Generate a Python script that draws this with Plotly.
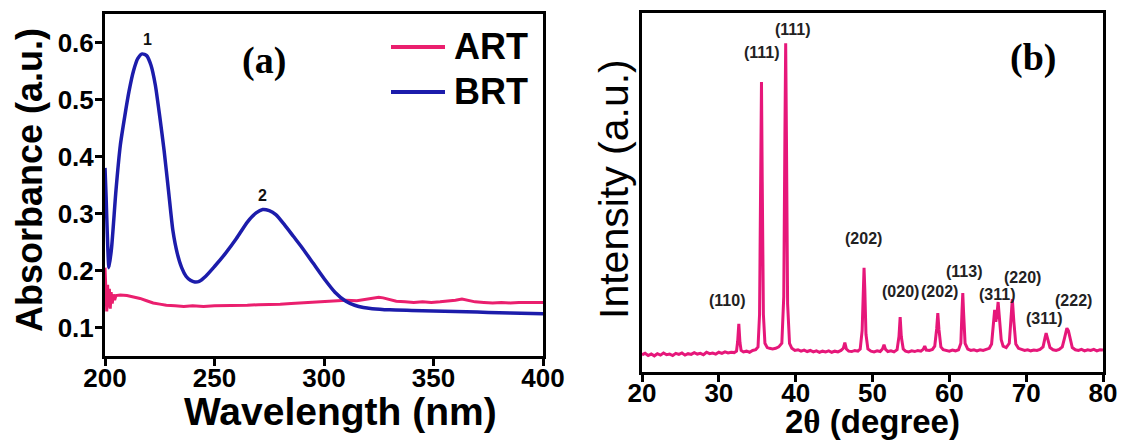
import plotly.graph_objects as go

# ---------------- UV-Vis absorbance spectra ----------------
wl_brt = [200, 200.5, 201, 201.8, 203, 205, 207, 209, 211, 213, 215, 217, 219, 221, 223,
          225, 227, 229, 231, 233, 235, 237, 239, 241, 243, 246, 250, 255, 260, 265, 269,
          272, 275, 278, 282, 286, 290, 295, 300, 305, 310, 314, 318, 322, 330, 340, 350,
          360, 370, 380, 390, 400]
abs_brt = [0.38, 0.33, 0.27, 0.205, 0.24, 0.34, 0.42, 0.47, 0.515, 0.55, 0.572, 0.58, 0.577,
           0.56, 0.525, 0.47, 0.41, 0.34, 0.27, 0.23, 0.205, 0.19, 0.183, 0.18, 0.181, 0.19,
           0.207, 0.23, 0.256, 0.285, 0.301, 0.307, 0.305, 0.298, 0.28, 0.26, 0.24, 0.213,
           0.186, 0.162, 0.146, 0.139, 0.135, 0.133, 0.131, 0.13, 0.129, 0.128, 0.127, 0.126,
           0.125, 0.124]

wl_art = [200, 200.4, 200.8, 201.2, 201.6, 202.0, 202.4, 202.8, 203.3, 203.8, 204.4, 205,
          207, 210, 213, 216, 219, 222, 225, 228, 232, 236, 240, 245, 250, 255, 260, 265,
          270, 275, 280, 285, 290, 295, 300, 305, 310, 315, 318, 322, 325, 327, 330, 333,
          337, 341, 345, 349, 353, 357, 360, 363, 366, 369, 373, 377, 381, 385, 389, 393,
          397, 400]
abs_art = [0.205, 0.16, 0.128, 0.175, 0.135, 0.168, 0.133, 0.162, 0.142, 0.158, 0.148, 0.156,
           0.157, 0.156, 0.154, 0.151, 0.147, 0.143, 0.141, 0.139, 0.138, 0.137, 0.138, 0.137,
           0.138, 0.138, 0.139, 0.139, 0.14, 0.14, 0.141, 0.142, 0.143, 0.145, 0.146, 0.146,
           0.148, 0.147, 0.149, 0.152, 0.153, 0.152, 0.149, 0.146, 0.145, 0.144, 0.145, 0.144,
           0.145, 0.146, 0.148, 0.15, 0.148, 0.145, 0.144, 0.143, 0.144, 0.143, 0.144, 0.144,
           0.143, 0.144]

band_labels = ["1", "2"]
band_x = [219.2, 271.7]
band_y = [0.606, 0.332]

# ---------------- XRD pattern ----------------
two_theta = [
    20.0, 20.4, 20.8, 21.2, 21.6, 22.0, 22.4, 22.8, 23.2, 23.6, 24.0, 24.4, 24.8, 25.2, 25.6,
    26.0, 26.4, 26.8, 27.2, 27.6, 28.0, 28.4, 28.8, 29.2, 29.6, 30.0, 30.4, 30.8, 31.2, 31.6,
    32.0, 32.3, 32.45, 32.6, 32.75, 32.9, 33.2, 33.6, 34.0, 34.4, 34.8, 35.1, 35.3, 35.45,
    35.55, 35.65, 35.8, 36.0, 36.3, 36.6, 37.0, 37.4, 37.8, 38.2, 38.45, 38.6, 38.7, 38.8,
    38.95, 39.2, 39.5, 39.9, 40.3, 40.7, 41.1, 41.5, 41.9, 42.3, 42.7, 43.1, 43.5, 43.9,
    44.3, 44.7, 45.1, 45.5, 45.9, 46.2, 46.4, 46.6, 46.9, 47.3, 47.7, 48.1, 48.4, 48.65,
    48.8, 48.9, 49.0, 49.15, 49.4, 49.8, 50.2, 50.6, 51.0, 51.3, 51.5, 51.7, 52.0, 52.4,
    52.8, 53.2, 53.45, 53.6, 53.75, 54.0, 54.3, 54.7, 55.1, 55.5, 55.9, 56.3, 56.6, 56.8,
    57.0, 57.4, 57.8, 58.1, 58.35, 58.5, 58.65, 58.9, 59.2, 59.6, 60.0, 60.4, 60.8, 61.2,
    61.5, 61.65, 61.75, 61.85, 62.05, 62.4, 62.8, 63.2, 63.6, 64.0, 64.4, 64.8, 65.2, 65.5,
    65.75, 65.9, 66.05, 66.2, 66.35, 66.5, 66.75, 67.0, 67.4, 67.8, 68.0, 68.2, 68.4, 68.65,
    69.0, 69.4, 69.8, 70.2, 70.6, 71.0, 71.4, 71.8, 72.2, 72.45, 72.6, 72.8, 73.1, 73.5,
    73.9, 74.3, 74.7, 75.0, 75.3, 75.5, 75.75, 76.0, 76.4, 76.8, 77.2, 77.6, 78.0, 78.4,
    78.8, 79.2, 79.6, 80.0]
intensity = [
    48, 52, 46, 50, 45, 51, 47, 53, 48, 50, 46, 52, 49, 53, 47,
    51, 49, 54, 50, 52, 48, 55, 51, 53, 50, 55, 52, 56, 53, 55,
    54, 58, 85, 134, 82, 60, 56, 58, 55, 60, 62, 70, 160, 520,
    808, 530, 160, 80, 68, 66, 64, 66, 70, 80, 210, 660, 916, 650,
    190, 80, 66, 60, 62, 58, 61, 57, 60, 56, 59, 55, 58, 56,
    59, 55, 58, 56, 60, 66, 82, 64, 58, 57, 60, 58, 64, 115,
    235, 290, 230, 105, 64, 58, 56, 59, 57, 64, 76, 63, 57, 59,
    56, 62, 100, 153, 98, 64, 58, 56, 59, 57, 60, 58, 63, 72,
    61, 60, 63, 72, 120, 164, 118, 70, 62, 60, 58, 61, 59, 62,
    80, 170, 220, 168, 80, 64, 60, 62, 59, 62, 60, 63, 66, 78,
    130, 173, 140, 160, 195, 150, 90, 72, 68, 80, 150, 203, 140, 78,
    66, 62, 60, 62, 59, 61, 60, 63, 70, 95, 108, 92, 68, 62,
    60, 63, 70, 95, 122, 115, 88, 68, 62, 60, 63, 59, 62, 60,
    63, 59, 62, 61]

hkl_labels = ["(110)", "(111)", "(111)", "(202)", "(020)", "(202)", "(113)",
              "(311)", "(220)", "(311)", "(222)"]
hkl_x = [31.07, 35.63, 39.66, 48.78, 53.59, 58.67, 61.93, 66.22, 69.48, 72.34, 76.12]
hkl_y = [200, 889, 953, 371, 223, 223, 279, 217, 262, 148, 198]

# ---------------- styling ----------------
W, H = 1121, 441
PINK = "#e6177a"
ART_PINK = "#ea1f6e"
BLUE = "#1c1cab"
SANS = "Liberation Sans, Arial, sans-serif"
SERIF = "Liberation Serif, Times New Roman, serif"


def px(x):
    return x / W


def py(y):
    return 1 - y / H


fig = go.Figure()

fig.add_trace(go.Scatter(x=wl_art, y=abs_art, mode="lines", xaxis="x", yaxis="y",
                         line=dict(color=ART_PINK, width=3), showlegend=False))
fig.add_trace(go.Scatter(x=wl_brt, y=abs_brt, mode="lines", xaxis="x", yaxis="y",
                         line=dict(color=BLUE, width=3.5, shape="spline", smoothing=0.6),
                         showlegend=False))
fig.add_trace(go.Scatter(x=two_theta, y=intensity, mode="lines", xaxis="x2", yaxis="y2",
                         line=dict(color=PINK, width=3), showlegend=False))

axis_common = dict(showline=True, linecolor="black", linewidth=3, mirror=True,
                   showgrid=False, zeroline=False, ticks="outside", ticklen=7,
                   tickwidth=3, tickcolor="black", automargin=False)
tick_font = dict(family=SANS, size=26, color="black", weight="bold")

fig.update_layout(
    width=W, height=H,
    margin=dict(l=0, r=0, t=0, b=0, pad=0, autoexpand=False),
    paper_bgcolor="white", plot_bgcolor="white",
    xaxis=dict(domain=[px(105), px(543)], range=[200, 400], tickvals=[200, 250, 300, 350, 400],
               tickfont=tick_font, ticklabelstandoff=-10, anchor="y", **axis_common),
    yaxis=dict(domain=[py(356), py(14)], range=[0.05, 0.65],
               tickvals=[0.1, 0.2, 0.3, 0.4, 0.5, 0.6], tickformat=".1f",
               tickfont=tick_font, ticklabelstandoff=-4, anchor="x", **axis_common),
    xaxis2=dict(domain=[px(642), px(1103)], range=[20, 80],
                tickvals=[20, 30, 40, 50, 60, 70, 80],
                tickfont=tick_font, ticklabelstandoff=-11, anchor="y2", **axis_common),
    yaxis2=dict(domain=[py(372), py(13)], range=[0, 1000], showline=True, linecolor="black",
                linewidth=3, mirror=True, showgrid=False, zeroline=False, ticks="",
                showticklabels=False, anchor="x2", automargin=False),
)

annotations = []
# axis titles
annotations.append(dict(text="Absorbance (a.u.)", x=px(29), y=py(180), xref="paper", yref="paper",
                        textangle=-90, showarrow=False, xanchor="center", yanchor="middle",
                        font=dict(family=SANS, size=36, color="black", weight="bold")))
annotations.append(dict(text="Wavelength (nm)", x=px(340), y=py(411), xref="paper", yref="paper",
                        showarrow=False, xanchor="center", yanchor="middle",
                        font=dict(family=SANS, size=39, color="black", weight="bold")))
annotations.append(dict(text="Intensity (a.u.)", x=px(614), y=py(189), xref="paper", yref="paper",
                        textangle=-90, showarrow=False, xanchor="center", yanchor="middle",
                        font=dict(family=SANS, size=41, color="black")))
annotations.append(dict(text="2<span style='font-family:Liberation Serif'>θ</span> (degree)",
                        x=px(872), y=py(421), xref="paper", yref="paper",
                        showarrow=False, xanchor="center", yanchor="middle",
                        font=dict(family=SANS, size=33, color="black", weight="bold")))
# panel tags
annotations.append(dict(text="(a)", x=px(264), y=py(60), xref="paper", yref="paper",
                        showarrow=False, xanchor="center", yanchor="middle",
                        font=dict(family=SERIF, size=38, color="black", weight="bold")))
annotations.append(dict(text="(b)", x=px(1033), y=py(57), xref="paper", yref="paper",
                        showarrow=False, xanchor="center", yanchor="middle",
                        font=dict(family=SERIF, size=38, color="black", weight="bold")))
# band numbers
for t, xv, yv in zip(band_labels, band_x, band_y):
    annotations.append(dict(text=t, x=xv, y=yv, xref="x", yref="y", showarrow=False,
                            xanchor="center", yanchor="middle",
                            font=dict(family=SANS, size=16, color="#111", weight="bold")))
# Miller indices
for t, xv, yv in zip(hkl_labels, hkl_x, hkl_y):
    annotations.append(dict(text=t, x=xv, y=yv, xref="x2", yref="y2", showarrow=False,
                            xanchor="center", yanchor="middle",
                            font=dict(family=SANS, size=16, color="#222", weight="bold")))
# legend for the absorbance panel
legend_items = [("ART", ART_PINK, 47), ("BRT", BLUE, 92)]
shapes = []
for name, col, yy in legend_items:
    shapes.append(dict(type="line", xref="paper", yref="paper", x0=px(391), x1=px(445),
                       y0=py(yy), y1=py(yy), line=dict(color=col, width=4)))
    annotations.append(dict(text=name, x=px(452), y=py(yy), xref="paper", yref="paper",
                            showarrow=False, xanchor="left", yanchor="middle",
                            font=dict(family=SANS, size=36, color="black", weight="bold")))

fig.update_layout(annotations=annotations, shapes=shapes)

fig.write_html("out.html")
